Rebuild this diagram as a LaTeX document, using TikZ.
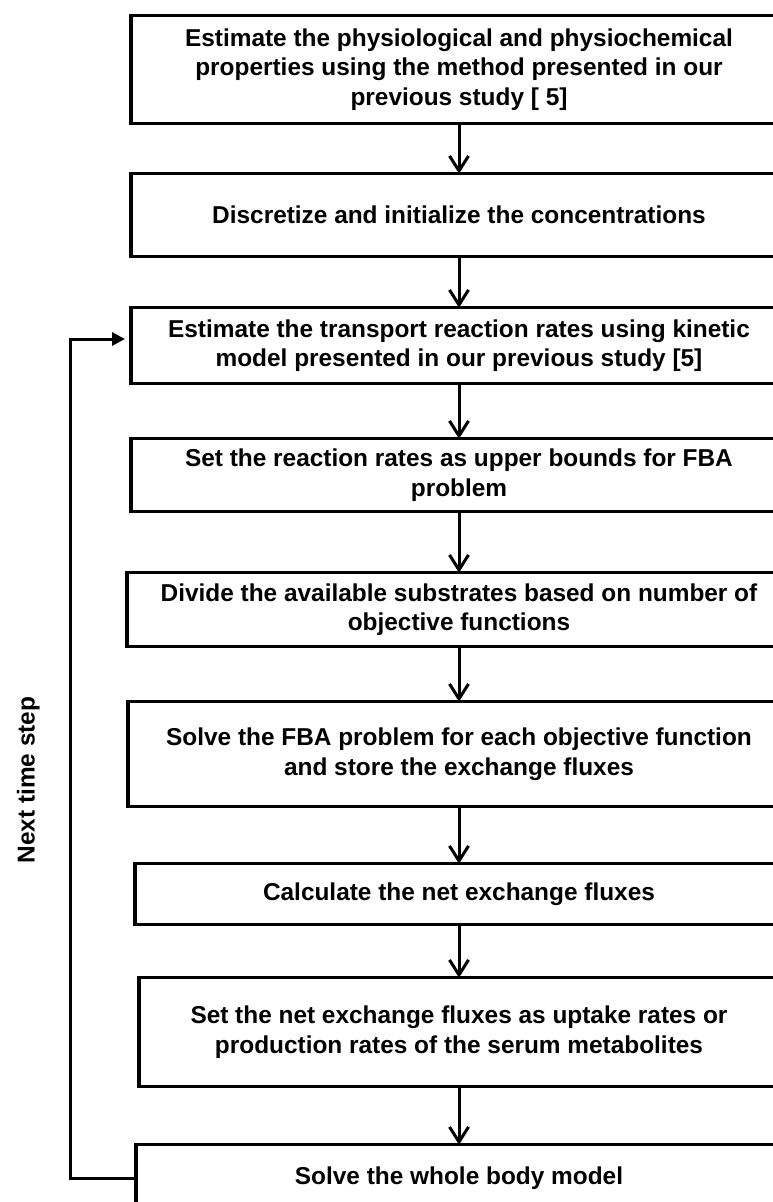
\documentclass[tikz,border=0pt]{standalone}
\usepackage{fontspec}
\setmainfont{Liberation Sans}
\usetikzlibrary{positioning,arrows.meta}
\newcommand{\Body}{\fontsize{24.4}{29.5}\selectfont\bfseries}
\tikzset{
  stepbox/.style={draw=black, line width=3.3pt, fill=white, outer sep=0pt,
                  align=center, inner sep=0pt, minimum width=656pt, font=\Body},
  flow/.style={-{Straight Barb[length=15pt,width=19pt]}, line width=3pt},
  back/.style={-{Triangle[length=13pt,width=13pt]}, line width=3pt, shorten >=6pt},
}

\begin{document}
\begin{tikzpicture}[x=1pt,y=-1pt]
  \clip (0,0) rectangle (773,1202);
  \useasboundingbox (0,0) rectangle (773,1202);
  \node[stepbox, minimum height=107.6pt] (est) at (459,69.5)
    {Estimate the physiological and physiochemical\\properties using the method presented in our\\previous study [ 5]};
  \node[stepbox, minimum height=82.6pt, below=50.4pt of est] (discr)
    {Discretize and initialize the concentrations};
  \node[stepbox, minimum height=75.6pt, below=51.4pt of discr] (transp)
    {Estimate the transport reaction rates using kinetic\\model presented in our previous study [5]};
  \node[stepbox, minimum height=72.6pt, below=55.4pt of transp] (bounds)
    {Set the reaction rates as upper bounds for FBA\\problem};
  \node[stepbox, minimum height=73.6pt, minimum width=664pt, below=61.4pt of bounds] (divide)
    {Divide the available substrates based on number of\\objective functions};
  \node[stepbox, minimum height=104.6pt, minimum width=662pt, below=55.4pt of divide] (solvefba)
    {Solve the FBA problem for each objective function\\and store the exchange fluxes};
  \node[stepbox, minimum height=60.6pt, minimum width=648pt, below=57.4pt of solvefba] (netflux)
    {Calculate the net exchange fluxes};
  \node[stepbox, minimum height=108.6pt, minimum width=640pt, below=53.4pt of netflux] (uptake)
    {Set the net exchange fluxes as uptake rates or\\production rates of the serum metabolites};
  \node[stepbox, minimum height=66.6pt, minimum width=646pt, below=58.4pt of uptake] (solvewb)
    {Solve the whole body model};

  % main chain
  \draw[flow] (est) -- (discr);
  \draw[flow] (discr) -- (transp);
  \draw[flow] (transp) -- (bounds);
  \draw[flow] (bounds) -- (divide);
  \draw[flow] (divide) -- (solvefba);
  \draw[flow] (solvefba) -- (netflux);
  \draw[flow] (netflux) -- (uptake);
  \draw[flow] (uptake) -- (solvewb);

  % loop back
  \coordinate (corner) at (70,1178);
  \draw[back] (solvewb.west) -- (corner) |- ([yshift=6.5pt]transp.west);
  \node[rotate=90, anchor=base, font=\Body] (nextstep) at (34.5,780) {Next time step};
\end{tikzpicture}
\end{document}
